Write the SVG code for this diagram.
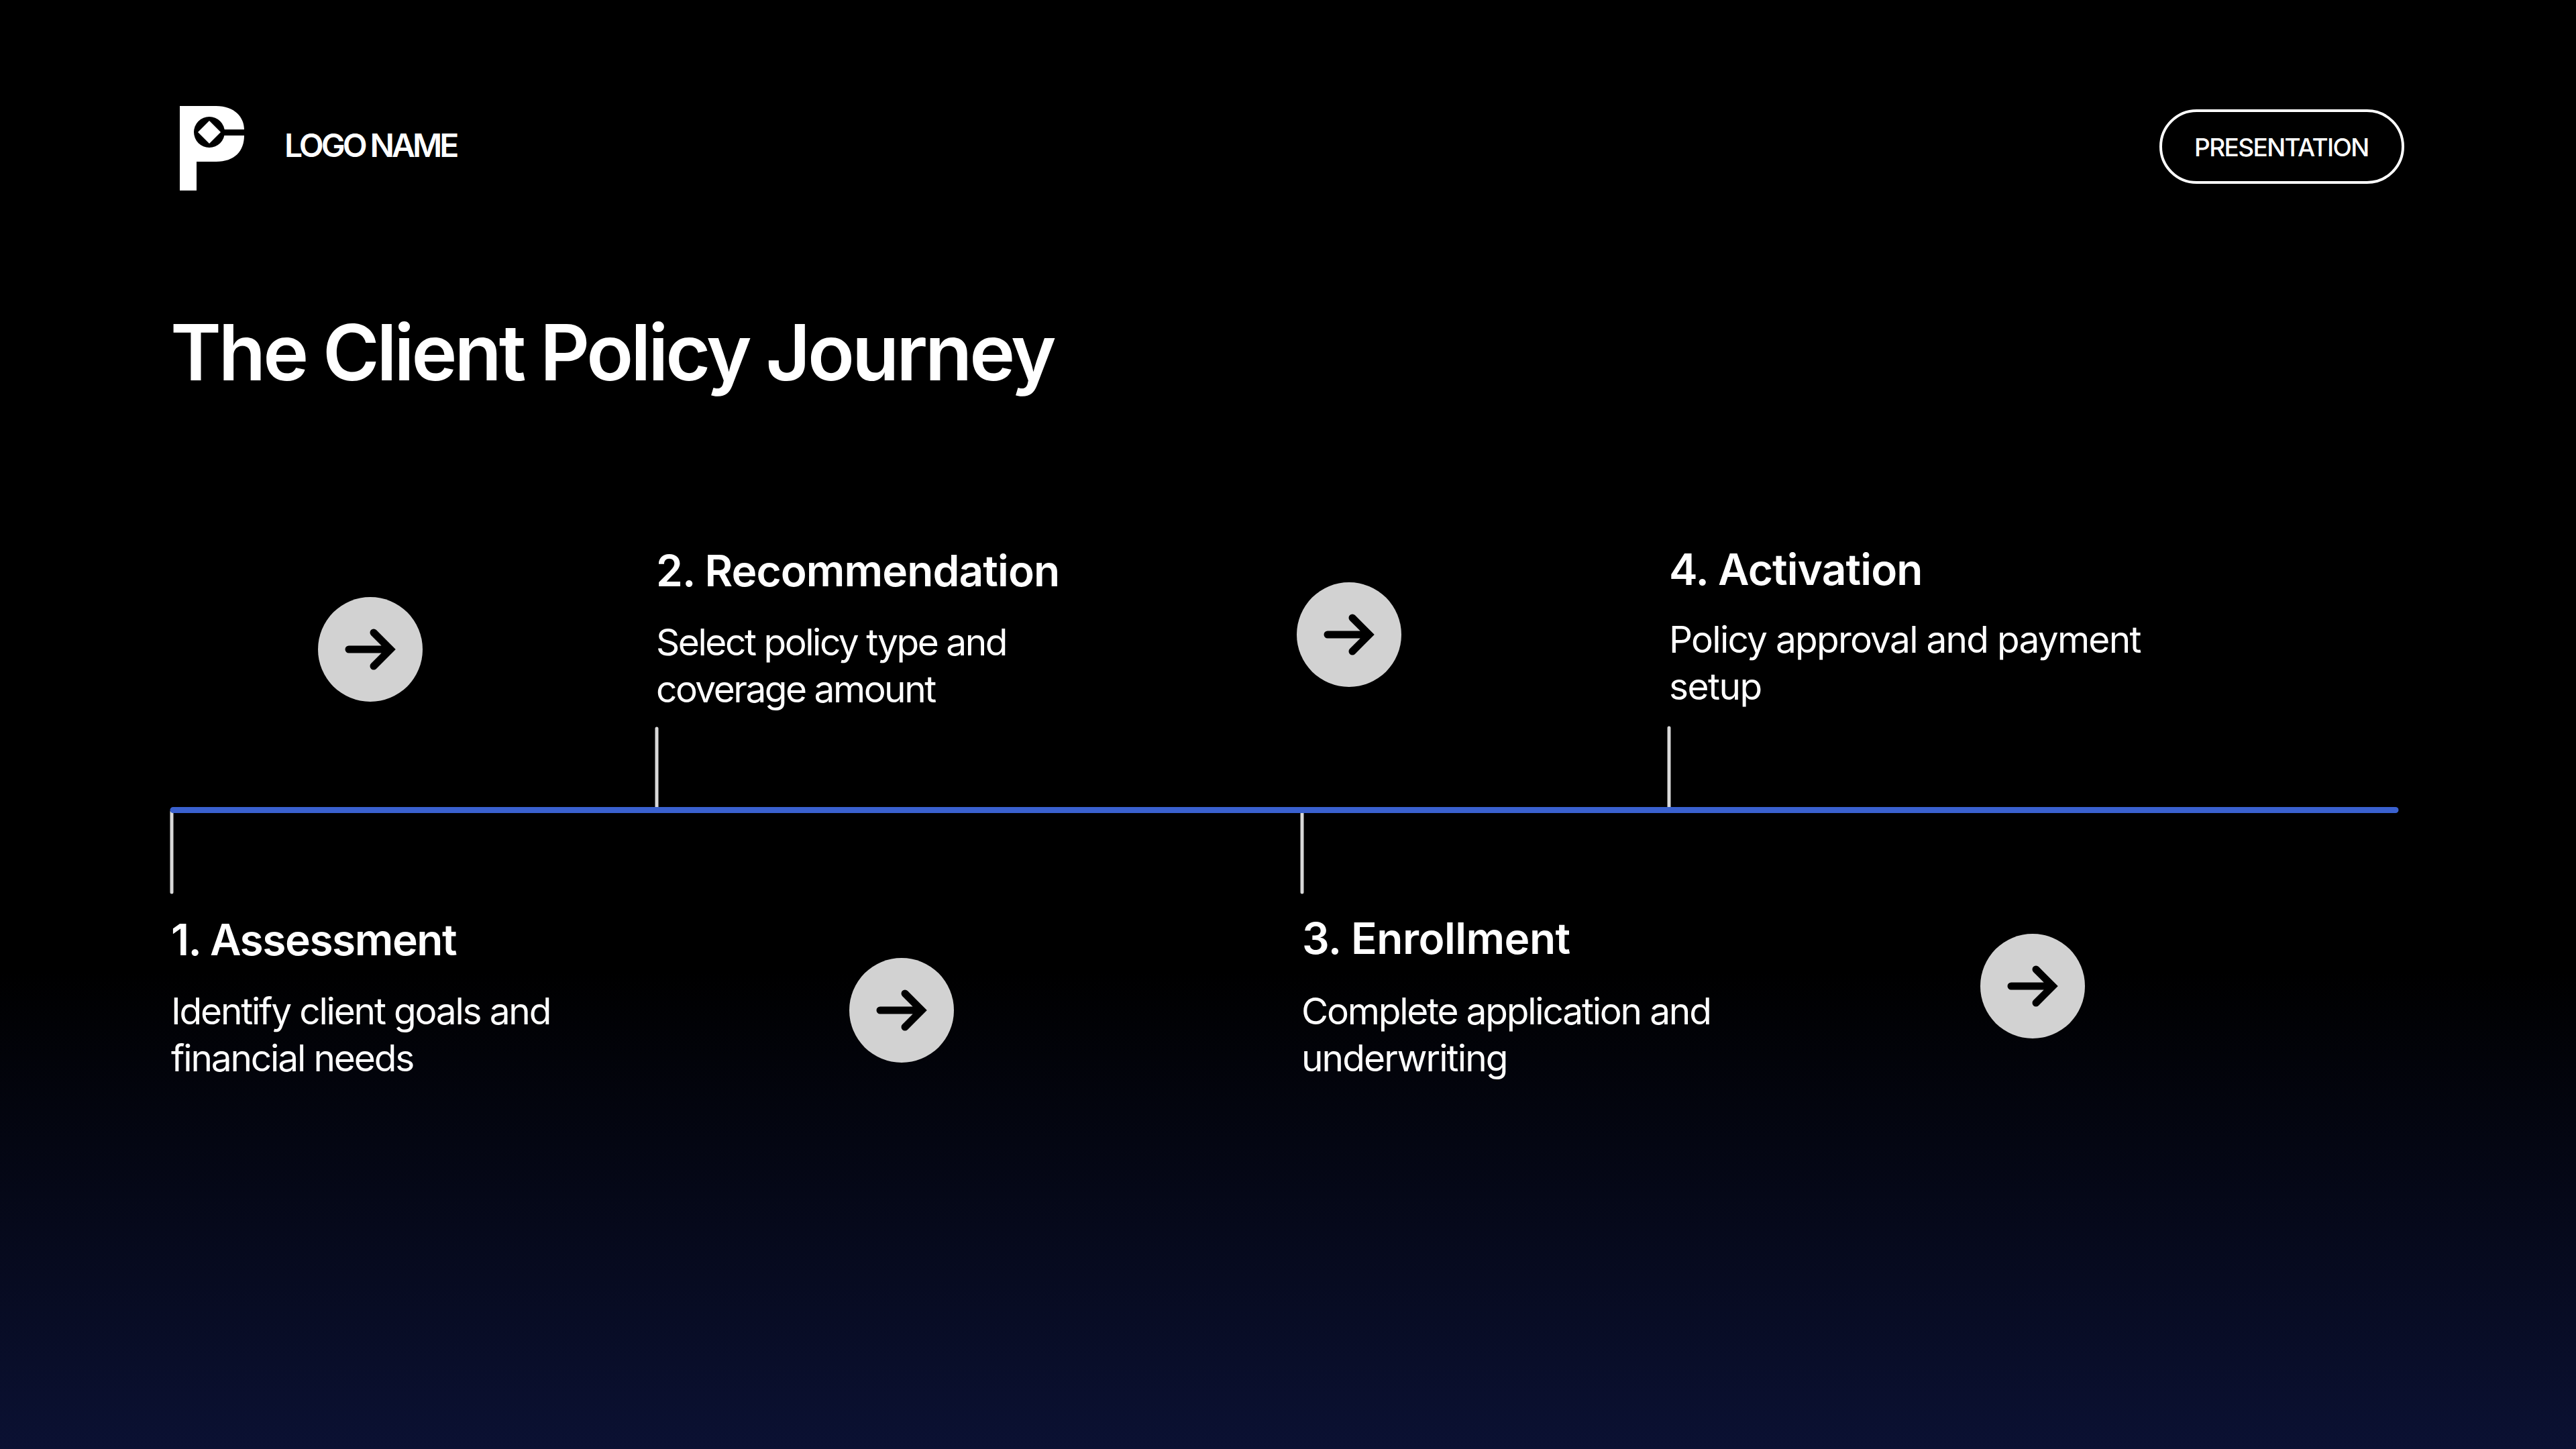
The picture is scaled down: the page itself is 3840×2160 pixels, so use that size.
<svg xmlns="http://www.w3.org/2000/svg" width="3840" height="2160" viewBox="0 0 3840 2160">
<style>
text{font-family:"Inter","Noto Sans","Liberation Sans",sans-serif;fill:#fff}
.h{font-size:64px;font-weight:600}
.b{font-size:55px;font-weight:400}
.tick{stroke:#d9d9d9;stroke-width:5;stroke-linecap:round;fill:none}
.c{fill:#d2d2d2}
.a{fill:none;stroke:#000;stroke-width:11;stroke-linecap:round;stroke-linejoin:miter}
</style>
<defs>
<linearGradient id="bg" x1="0" y1="0" x2="0" y2="1"><stop offset="0" stop-color="#000"/><stop offset=".67" stop-color="#000"/><stop offset="1" stop-color="#0b1133"/></linearGradient>
<g id="arr"><circle class="c" r="78"/><path class="a" d="M-32 0H28M5-25L30 0L5 25"/></g>
</defs>
<rect width="3840" height="2160" fill="url(#bg)"/>
<g id="logo">
<path fill="#fff" d="M268 158H322C350 158 364 175 364 193V202C364 225 350 241 322 241H293V284H268Z"/>
<circle cx="312" cy="197" r="23" fill="#000"/>
<path fill="#fff" d="M312 180L329 197L312 214L295 197Z"/>
<path fill="#000" d="M330 193H364V202H330Z"/>
<text x="424" y="234" font-size="48" font-weight="600" letter-spacing="-4">LOGO NAME</text>
</g>
<g id="badge">
<rect x="3221" y="165" width="361" height="107" rx="53.5" fill="none" stroke="#fff" stroke-width="4"/>
<text x="3271" y="233" font-size="37" font-weight="500" letter-spacing="-1.6">PRESENTATION</text>
</g>
<text id="title" x="254" y="567" font-size="115" font-weight="600" letter-spacing="-4.1">The Client Policy Journey</text>
<g id="connectors">
<path class="tick" d="M256 1210V1330M979 1086V1203M1941 1210V1330M2488 1085V1203"/>
<path d="M258 1207.500H3571" stroke="#3a61cf" stroke-width="9" stroke-linecap="round"/>
</g>
<g id="step1"><text class="h" x="255" y="1424" letter-spacing="-1.45">1. Assessment</text><text class="b" x="255" y="1527" letter-spacing="-2.2">Identify client goals and</text><text class="b" x="255" y="1597" letter-spacing="-2.15">financial needs</text></g>
<g id="step2"><text class="h" x="978" y="874" letter-spacing="-.9">2. Recommendation</text><text class="b" x="978" y="977" letter-spacing="-2.45">Select policy type and</text><text class="b" x="978" y="1047" letter-spacing="-2.5">coverage amount</text></g>
<g id="step3"><text class="h" x="1941" y="1422" letter-spacing="-.5">3. Enrollment</text><text class="b" x="1940" y="1527" letter-spacing="-2.2">Complete application and</text><text class="b" x="1940" y="1597" letter-spacing="-1.9">underwriting</text></g>
<g id="step4"><text class="h" x="2488" y="872" letter-spacing="-.9">4. Activation</text><text class="b" x="2488" y="973" letter-spacing="-1.75">Policy approval and payment</text><text class="b" x="2488" y="1043" letter-spacing="-1.5">setup</text></g>
<use id="arrow1" href="#arr" x="552" y="968"/>
<use id="arrow2" href="#arr" x="1344" y="1506"/>
<use id="arrow3" href="#arr" x="2011" y="946"/>
<use id="arrow4" href="#arr" x="3030" y="1470"/>
</svg>
